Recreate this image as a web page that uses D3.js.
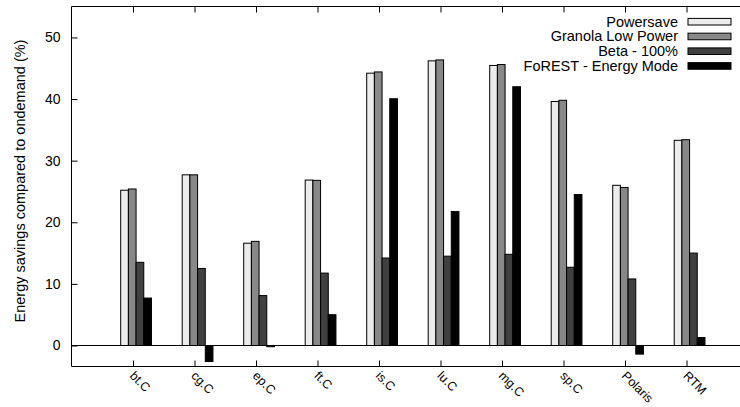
<!DOCTYPE html>
<html><head><meta charset="utf-8">
<script src="https://cdn.jsdelivr.net/npm/d3@7"></script>
<style>body{margin:0;background:#fff}svg{display:block}text{font-family:"Liberation Sans",Arial,sans-serif}</style>
</head><body><svg id="c" width="740" height="407"></svg>
<script>
const categories = ["bt.C","cg.C","ep.C","ft.C","is.C","lu.C","mg.C","sp.C","Polaris","RTM"];
const seriesNames = ["Powersave","Granola Low Power","Beta - 100%","FoREST - Energy Mode"];
const powersave = [25.2, 27.7, 16.6, 26.85, 44.2, 46.2, 45.45, 39.6, 26.0, 33.3];
const granola   = [25.4, 27.7, 16.9, 26.8, 44.4, 46.35, 45.6, 39.8, 25.65, 33.4];
const beta      = [13.5, 12.5, 8.1, 11.75, 14.2, 14.5, 14.8, 12.7, 10.8, 15.0];
const forest    = [7.7, -2.6, -0.2, 5.0, 40.05, 21.75, 42.0, 24.5, -1.4, 1.3];
const yTicks = [0, 10, 20, 30, 40, 50];
const colors = ["#ececec","#888888","#404040","#000000"];
const series = [powersave, granola, beta, forest];

const svg = d3.select("#c");
const L = 71.5, T = 6.5, B = 366.5;
const unit = 61.5;
const R = L + unit * 11;
const x = d3.scaleLinear().domain([0, 11]).range([L, R]);
const y = d3.scaleLinear().domain([-3.41, 55.02]).range([B, T]);
const bw = 0.125, off = -0.2;

// zero line
svg.append("line").attr("x1", L).attr("x2", R).attr("y1", y(0)).attr("y2", y(0))
  .attr("stroke", "#000").attr("stroke-width", 1);

// bars
series.forEach((vals, si) => {
  svg.append("g").selectAll("rect").data(vals).join("rect")
    .attr("x", (d, i) => x(i + 1 + off + si * bw))
    .attr("width", x(bw) - x(0))
    .attr("y", d => y(Math.max(0, d)))
    .attr("height", d => Math.abs(y(d) - y(0)))
    .attr("fill", colors[si]).attr("stroke", "#000").attr("stroke-width", 1);
});

// frame
svg.append("path").attr("d", `M${R},${T}H${L}V${B}H${R}`).attr("fill", "none").attr("stroke", "#000").attr("stroke-width", 1);

// y axis
const yAxis = d3.axisLeft(y).tickValues(yTicks).tickSize(-6).tickPadding(11);
const ya = svg.append("g").attr("transform", `translate(${L},0)`).call(yAxis);
ya.select(".domain").remove();
ya.selectAll("text").attr("font-size", 14).attr("fill", "#000").style("font-family", "Liberation Sans, Arial, sans-serif");
ya.selectAll("line").attr("stroke", "#000");

// x axis bottom ticks
const tickPos = d3.range(1, categories.length + 1);
const xa = svg.append("g").attr("transform", `translate(0,${B})`).call(d3.axisBottom(x).tickValues(tickPos).tickSize(-6).tickFormat(""));
xa.select(".domain").remove();
xa.selectAll("line").attr("stroke", "#000");

// x labels rotated
svg.append("g").selectAll("text").data(categories).join("text")
  .attr("transform", (d, i) => `translate(${x(i + 1) - 4},${B + 10}) rotate(45)`)
  .attr("font-size", 12.5).attr("text-anchor", "start").text(d => d);

// x axis top mirror ticks
const xt = svg.append("g").attr("transform", `translate(0,${T})`).call(d3.axisTop(x).tickValues(tickPos).tickSize(-6).tickFormat(""));
xt.select(".domain").remove();
xt.selectAll("line").attr("stroke", "#000");

// y label
svg.append("text").attr("transform", "translate(25,181) rotate(-90)")
  .attr("text-anchor", "middle").attr("font-size", 14.5).text("Energy savings compared to ondemand (%)");

// legend
const lg = svg.append("g");
seriesNames.forEach((n, i) => {
  const cy = 21.7 + i * 14.75;
  lg.append("text").attr("x", 678).attr("y", cy + 5).attr("text-anchor", "end").attr("font-size", 14.5).text(n);
  lg.append("rect").attr("x", 688).attr("y", cy - 3.3).attr("width", 43).attr("height", 6.6)
    .attr("fill", colors[i]).attr("stroke", "#000").attr("stroke-width", 1);
});
</script></body></html>
